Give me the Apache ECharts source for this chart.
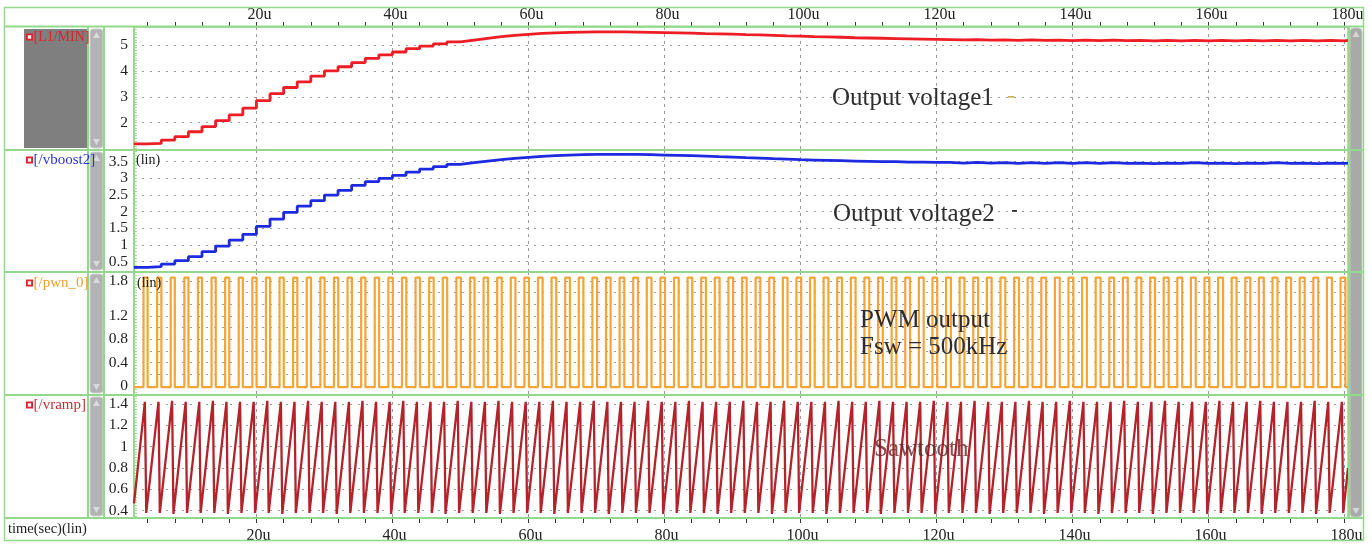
<!DOCTYPE html>
<html><head><meta charset="utf-8">
<script src="https://cdn.jsdelivr.net/npm/echarts@6/dist/echarts.min.js"></script>
<style>html,body{margin:0;padding:0;background:#fff}#c{width:1372px;height:546px}</style>
</head><body><div id="c"></div>
<script>
// ---------------- DATA ----------------
const timeTickLabels = [20,40,60,80,100,120,140,160,180];
const timeMinorTicks = [4,8,12,16,20,24,28,32,36,40,44,48,52,56,60,64,68,72,76,80,84,88,92,96,100,104,108,112,116,120,124,128,132,136,140,144,148,152,156,160,164,168,172,176,180];
const panel1Ticks = [2,3,4,5];
const panel2Ticks = [0.5,1,1.5,2,2.5,3,3.5];
const panel3Labels = [0,0.4,0.8,1.2,1.8];
const panel3Grid = [0.2,0.4,0.6,0.8,1.0,1.2,1.4,1.6,1.8];
const panel4Ticks = [0.4,0.6,0.8,1.0,1.2,1.4];
const signalNames = ['[L1/MIN]','[/vboost2]','[/pwn_0]','[/vramp]'];

// sample times (one per switching period, u = microseconds)
const sampleTimes = [2,4,6,8,10,12,14,16,18,20,22,24,26,28,30,32,34,36,38,40,42,44,46,48,50,52,54,56,58,60,62,64,66,68,70,72,74,76,78,80,82,84,86,88,90,92,94,96,98,100,102,104,106,108,110,112,114,116,118,120,122,124,126,128,130,132,134,136,138,140,142,144,146,148,150,152,154,156,158,160,162,164,166,168,170,172,174,176,178,180];
const endTime = 180.5;

// L1/MIN (V)
const vMinVals = [1.18,1.20,1.33,1.46,1.65,1.85,2.08,2.30,2.56,2.85,
 3.12,3.36,3.58,3.80,4.00,4.16,4.32,4.48,4.62,4.73,
 4.86,4.96,5.04,5.12,5.19,5.26,5.32,5.37,5.41,5.45,
 5.47,5.49,5.50,5.51,5.51,5.51,5.50,5.49,5.48,5.47,
 5.46,5.44,5.43,5.42,5.40,5.39,5.37,5.35,5.34,5.32,
 5.31,5.30,5.28,5.27,5.26,5.25,5.24,5.23,5.22,5.21,
 5.20,5.21,5.19,5.20,5.18,5.20,5.18,5.19,5.17,5.19,
 5.17,5.19,5.17,5.18,5.16,5.18,5.16,5.18,5.16,5.18,
 5.16,5.18,5.16,5.18,5.16,5.18,5.16,5.18,5.16,5.18];

// /vboost2 (V)
const vBoostVals = [0.33,0.35,0.43,0.53,0.65,0.80,0.97,1.15,1.32,1.56,
 1.78,1.98,2.17,2.33,2.50,2.64,2.79,2.90,3.00,3.09,
 3.19,3.28,3.35,3.42,3.47,3.52,3.56,3.60,3.63,3.66,
 3.68,3.70,3.71,3.72,3.72,3.72,3.72,3.71,3.70,3.69,
 3.68,3.67,3.65,3.64,3.62,3.61,3.59,3.58,3.56,3.55,
 3.54,3.53,3.52,3.51,3.50,3.50,3.49,3.49,3.48,3.48,
 3.46,3.48,3.46,3.47,3.45,3.47,3.45,3.47,3.45,3.47,
 3.45,3.47,3.45,3.46,3.44,3.46,3.45,3.47,3.45,3.46,
 3.44,3.46,3.45,3.47,3.45,3.46,3.44,3.46,3.45,3.46];

// /pwn_0 : rising-edge times (u) and high-pulse widths (u)
const pwmRise = [3.4,5.4,7.4,9.4,11.4,13.4,15.4,17.4,19.4,21.4,23.4,25.4,27.4,29.4,31.4,33.4,35.4,37.4,39.4,41.4,43.4,45.4,47.4,49.4,51.4,53.4,55.4,57.4,59.4,61.4,63.4,65.4,67.4,69.4,71.4,73.4,75.4,77.4,79.4,81.4,83.4,85.4,87.4,89.4,91.4,93.4,95.4,97.4,99.4,101.4,103.4,105.4,107.4,109.4,111.4,113.4,115.4,117.4,119.4,121.4,123.4,125.4,127.4,129.4,131.4,133.4,135.4,137.4,139.4,141.4,143.4,145.4,147.4,149.4,151.4,153.4,155.4,157.4,159.4,161.4,163.4,165.4,167.4,169.4,171.4,173.4,175.4,177.4,179.4];
const pwmWidth = [0.60,0.62,0.60,0.61,0.60,0.62,0.61,0.60,0.62,0.61,
 0.62,0.61,0.63,0.62,0.63,0.64,0.63,0.64,0.65,0.64,
 0.65,0.66,0.65,0.66,0.67,0.66,0.67,0.68,0.67,0.68,
 0.68,0.69,0.68,0.69,0.68,0.69,0.70,0.69,0.68,0.69,
 0.68,0.69,0.70,0.69,0.68,0.69,0.70,0.69,0.70,0.69,
 0.70,0.69,0.70,0.71,0.70,0.69,0.70,0.71,0.70,0.71,
 0.70,0.71,0.70,0.71,0.72,0.71,0.70,0.71,0.72,0.71,
 0.72,0.71,0.72,0.71,0.72,0.73,0.72,0.71,0.72,0.73,
 0.72,0.73,0.72,0.73,0.72,0.73,0.72,0.73,0.72];
const pwmHigh = 1.86, pwmLow = -0.02;

// /vramp : peak times (u), peak and valley levels (V)
const rampPeakTimes = [3.6,5.6,7.6,9.6,11.6,13.6,15.6,17.6,19.6,21.6,23.6,25.6,27.6,29.6,31.6,33.6,35.6,37.6,39.6,41.6,43.6,45.6,47.6,49.6,51.6,53.6,55.6,57.6,59.6,61.6,63.6,65.6,67.6,69.6,71.6,73.6,75.6,77.6,79.6,81.6,83.6,85.6,87.6,89.6,91.6,93.6,95.6,97.6,99.6,101.6,103.6,105.6,107.6,109.6,111.6,113.6,115.6,117.6,119.6,121.6,123.6,125.6,127.6,129.6,131.6,133.6,135.6,137.6,139.6,141.6,143.6,145.6,147.6,149.6,151.6,153.6,155.6,157.6,159.6,161.6,163.6,165.6,167.6,169.6,171.6,173.6,175.6,177.6,179.6];
const rampPeak = [1.42,1.42,1.43,1.42,1.42,1.43,1.42,1.42,1.42,1.43,
 1.42,1.42,1.43,1.42,1.42,1.42,1.43,1.42,1.42,1.43,
 1.42,1.42,1.42,1.43,1.42,1.42,1.43,1.42,1.42,1.42,
 1.43,1.42,1.42,1.43,1.42,1.42,1.42,1.43,1.42,1.42,
 1.43,1.42,1.42,1.42,1.43,1.42,1.42,1.43,1.42,1.42,
 1.42,1.43,1.42,1.42,1.43,1.42,1.42,1.42,1.43,1.42,
 1.42,1.43,1.42,1.42,1.42,1.43,1.42,1.42,1.43,1.42,
 1.42,1.42,1.43,1.42,1.42,1.43,1.42,1.42,1.42,1.43,
 1.42,1.42,1.43,1.42,1.42,1.42,1.43,1.42,1.42];
const rampValley = [0.38,0.38,0.37,0.38,0.38,0.38,0.37,0.38,0.38,0.38,
 0.37,0.38,0.38,0.38,0.37,0.38,0.38,0.38,0.37,0.38,
 0.38,0.38,0.37,0.38,0.38,0.38,0.37,0.38,0.38,0.38,
 0.37,0.38,0.38,0.38,0.37,0.38,0.38,0.38,0.37,0.38,
 0.38,0.38,0.37,0.38,0.38,0.38,0.37,0.38,0.38,0.38,
 0.37,0.38,0.38,0.38,0.37,0.38,0.38,0.38,0.37,0.38,
 0.38,0.38,0.37,0.38,0.38,0.38,0.37,0.38,0.38,0.38,
 0.37,0.38,0.38,0.38,0.37,0.38,0.38,0.38,0.37,0.38,
 0.38,0.38,0.37,0.38,0.38,0.38,0.37,0.38,0.38];
const rampFallTime = 0.2;
const rampStart = 0.47, rampEnd = 0.8;

// ---------------- BUILD SERIES DATA ----------------
function pairs(ts, vs){ const d = ts.map((t,i)=>[t, vs[i]]); d.push([endTime, vs[vs.length-1]]); return d; }
const pwmData = [[2, pwmLow]];
pwmRise.forEach((t,i)=>{ const tf = +(t + pwmWidth[i]).toFixed(3); pwmData.push([t,pwmLow],[t,pwmHigh],[tf,pwmHigh],[tf,pwmLow]); });
pwmData.push([endTime, pwmLow]);
const rampData = [[2, rampStart]];
rampPeakTimes.forEach((t,i)=>{ rampData.push([t, rampPeak[i]], [+(t+rampFallTime).toFixed(3), rampValley[i]]); });
rampData.push([endTime, rampEnd]);

// ---------------- LAYOUT / STYLE ----------------
const FONT = '"Liberation Serif", "DejaVu Serif", serif';
const GREEN = '#93d98c';
const GRID_GRAY = '#9a9a9a';
const panels = [
  {top:27, bottom:150, min:0.946, max:5.695, labels:panel1Ticks, grid:panel1Ticks, minor:[1.0,5.6,0.1]},
  {top:150, bottom:272, min:0.191, max:3.851, labels:panel2Ticks, grid:panel2Ticks, minor:[0.2,3.8,0.1]},
  {top:272, bottom:395, min:-0.154, max:1.955, labels:panel3Labels, grid:panel3Grid, minor:[-0.15,1.95,0.05]},
  {top:395, bottom:518, min:0.332, max:1.484, labels:panel4Ticks, grid:panel4Ticks, minor:[0.35,1.475,0.025]}
];
function minorList(a,b,s){ const r=[]; for(let v=a; v<=b+1e-9; v+=s) r.push(+v.toFixed(4)); return r; }

const grids = panels.map(p=>({left:134, right:24, top:p.top, height:p.bottom-p.top, show:true, borderColor:GREEN, borderWidth:1.5, backgroundColor:'#fff', containLabel:false}));

const xAxes = panels.map((p,i)=>({
  type:'value', gridIndex:i, position:'bottom', min:2, max:endTime,
  axisLine:{show:false}, axisLabel:{show:false},
  axisTick:{show:false, customValues:timeTickLabels},
  splitLine:{show:true, lineStyle:{color:GRID_GRAY, type:[3,4], width:1}}
}));
xAxes.push({
  type:'value', gridIndex:0, position:'top', min:2, max:endTime,
  axisLine:{show:false}, splitLine:{show:false},
  axisTick:{show:true, inside:false, length:5, customValues:timeMinorTicks, lineStyle:{color:'#333', width:1}},
  axisLabel:{customValues:timeTickLabels, formatter:v=>v+'u', margin:4, fontFamily:FONT, fontSize:16, color:'#222', padding:[0,0,0,6]}
});
xAxes.push({
  type:'value', gridIndex:3, position:'bottom', min:2, max:endTime,
  axisLine:{show:false}, splitLine:{show:false},
  axisTick:{show:true, inside:false, length:5, customValues:timeMinorTicks, lineStyle:{color:'#333', width:1}},
  axisLabel:{customValues:timeTickLabels, formatter:v=>v+'u', margin:10, fontFamily:FONT, fontSize:16, color:'#222', padding:[0,0,0,4]}
});

const yAxes = panels.map((p,i)=>({
  type:'value', gridIndex:i, position:'left', min:p.min, max:p.max,
  axisLine:{show:true, lineStyle:{color:GREEN, width:2}},
  axisTick:{show:false, customValues:p.grid},
  axisLabel:{customValues:p.labels, margin:6, fontFamily:FONT, fontSize:15.5, color:'#222'},
  splitLine:{show:true, lineStyle:{color:GRID_GRAY, type:[2,6], width:1.2}}
}));
panels.forEach((p,i)=>yAxes.push({
  type:'value', gridIndex:i, position:'left', min:p.min, max:p.max,
  axisLine:{show:false}, axisLabel:{show:false}, splitLine:{show:false},
  axisTick:{show:true, inside:true, length:3, customValues:minorList(...p.minor), lineStyle:{color:'#a6dd9f', width:1}}
}));

const series = [
  {type:'line', xAxisIndex:0, yAxisIndex:0, data:pairs(sampleTimes, vMinVals), step:'end', showSymbol:false, lineStyle:{color:'#ee1c24', width:2.8}, z:3},
  {type:'line', xAxisIndex:1, yAxisIndex:1, data:pairs(sampleTimes, vBoostVals), step:'end', showSymbol:false, lineStyle:{color:'#1e2ae0', width:2.8}, z:3},
  {type:'line', xAxisIndex:2, yAxisIndex:2, data:pwmData, showSymbol:false, lineStyle:{color:'#f6a435', width:2.2}, z:3},
  {type:'line', xAxisIndex:3, yAxisIndex:3, data:rampData, showSymbol:false, lineStyle:{color:'#b4232a', width:2.3}, z:3}
];

// ---------------- DECORATION ----------------
const gfx = [];
const labelColors = ['#e0202a','#2a36d8','#f0a030','#c0303a'];
const labelSizes = [14,15,15,15];
const labelY = [37,160,283,405];
gfx.push({type:'rect', shape:{x:24,y:29,width:63,height:119}, style:{fill:'#7f7f7f'}, z:5});
panels.forEach(p=>{
  gfx.push({type:'rect', shape:{x:90,y:p.top+2,width:13,height:p.bottom-p.top-4,r:3}, style:{fill:'#b3b3b3', stroke:'#cfcfcf', lineWidth:1}, z:5});
  gfx.push({type:'polygon', shape:{points:[[96.5,p.top+5],[93,p.top+11],[100,p.top+11]]}, style:{fill:'#dadada'}, z:6});
  gfx.push({type:'polygon', shape:{points:[[96.5,p.bottom-5],[93,p.bottom-11],[100,p.bottom-11]]}, style:{fill:'#dadada'}, z:6});
});
gfx.push({type:'rect', shape:{x:1350,y:28,width:12,height:489,r:4}, style:{fill:'#a9a9a9', stroke:'#c8c8c8', lineWidth:1}, z:5});
gfx.push({type:'polygon', shape:{points:[[1356,31],[1352.5,37],[1359.5,37]]}, style:{fill:'#d6d6d6'}, z:6});
gfx.push({type:'polygon', shape:{points:[[1356,514],[1352.5,508],[1359.5,508]]}, style:{fill:'#d6d6d6'}, z:6});
// frame lines
gfx.push({type:'rect', shape:{x:4.5,y:7.5,width:1359,height:533}, style:{fill:null, stroke:GREEN, lineWidth:1.5}, z:8});
[26.5,150,272,395,518].forEach(y=>gfx.push({type:'line', shape:{x1:4,y1:y,x2:1364,y2:y}, style:{stroke:GREEN, lineWidth:2}, z:8}));
[88,104,1349].forEach(x=>gfx.push({type:'line', shape:{x1:x,y1:27,x2:x,y2:518}, style:{stroke:GREEN, lineWidth:2}, z:8}));
// signal labels
signalNames.forEach((n,i)=>{
  const y = labelY[i];
  gfx.push({type:'rect', shape:{x:26,y:y-3.5,width:7,height:7}, style:{fill:'#e0202a'}, z:30});
  gfx.push({type:'rect', shape:{x:27.8,y:y-1.7,width:3.4,height:3.4}, style:{fill:'#fff'}, z:31});
  gfx.push({type:'text', x:33.5, y:y, style:{text:n, font:labelSizes[i]+'px '+FONT, fill:labelColors[i], align:'left', verticalAlign:'middle', textAlign:'left', textVerticalAlign:'middle'}, z:32});
});
function txt(s,x,y,size,color,z){ return {type:'text', x:x, y:y, style:{text:s, font:size+'px '+FONT, fill:color, align:'left', verticalAlign:'middle', textAlign:'left', textVerticalAlign:'middle'}, z:z||20}; }
gfx.push(txt('(lin)',136,160,14,'#222'));
gfx.push(txt('(lin)',137,283,14,'#222'));
gfx.push(txt('time(sec)(lin)',8,529,14.5,'#222'));
gfx.push(txt('Output voltage1',832,98,25,'#2e2e2e'));
gfx.push(txt('Output voltage2',833,214,25,'#2e2e2e'));
gfx.push(txt('PWM output',860,320,25,'#2e2e2e'));
gfx.push(txt('Fsw = 500kHz',860,347,25,'#2e2e2e'));
gfx.push(txt('Sawtooth',874,449,25,'rgba(95,38,38,0.8)'));
gfx.push({type:'rect', shape:{x:1008,y:96,width:6,height:1.6}, style:{fill:'#c9b14a'}, z:20});
gfx.push({type:'rect', shape:{x:1012,y:210,width:5,height:1.8}, style:{fill:'#333'}, z:20});

const chart = echarts.init(document.getElementById('c'), null, {renderer:'canvas'});
chart.setOption({
  animation:false,
  backgroundColor:'#fff',
  grid:grids, xAxis:xAxes, yAxis:yAxes, series:series, graphic:{elements:gfx}
});
</script></body></html>
